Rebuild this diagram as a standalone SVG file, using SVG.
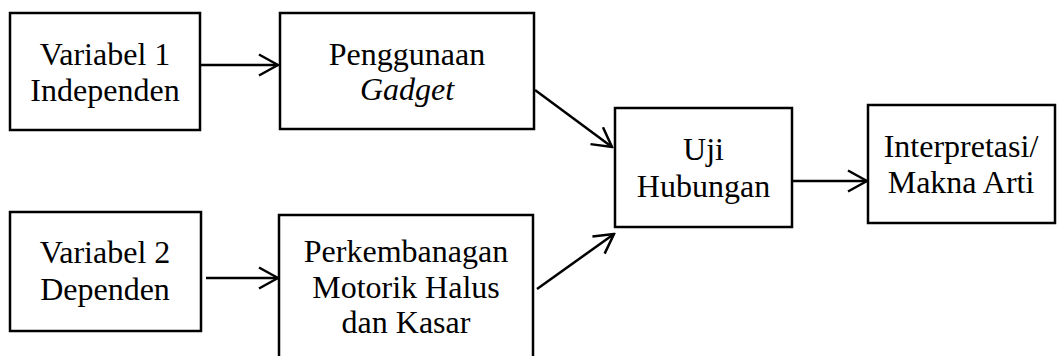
<svg xmlns="http://www.w3.org/2000/svg" width="1057" height="356" viewBox="0 0 1057 356">
<defs>
<style>
.box{fill:#fff;stroke:#000;stroke-width:2.5}
.t{font-family:"Liberation Serif","Times New Roman",serif;font-size:32px;fill:#000;text-anchor:middle}
.c{stroke:#000;stroke-width:2.5;fill:none}
</style>
<marker id="ah" markerWidth="24" markerHeight="24" viewBox="-22 -12 24 24" refX="0" refY="0" orient="auto" markerUnits="userSpaceOnUse">
<path d="M-19,-10.5 L0,0 L-19,10.5" fill="none" stroke="#000" stroke-width="2.5"/>
</marker>
</defs>
<rect width="1057" height="356" fill="#fff"/>
<g id="connectors">
<line class="c" x1="201" y1="65" x2="278" y2="65" marker-end="url(#ah)"/>
<line class="c" x1="206" y1="278" x2="278" y2="278" marker-end="url(#ah)"/>
<line class="c" x1="535" y1="90" x2="612" y2="147" marker-end="url(#ah)"/>
<line class="c" x1="537" y1="289" x2="614" y2="234" marker-end="url(#ah)"/>
<line class="c" x1="793" y1="181" x2="867" y2="181" marker-end="url(#ah)"/>
</g>
<g id="var1">
<rect class="box" x="10" y="13" width="190" height="117"/>
<text class="t" x="105" y="65">Variabel 1</text>
<text class="t" x="105" y="101">Independen</text>
</g>
<g id="penggunaan">
<rect class="box" x="280" y="13" width="254" height="116"/>
<text class="t" x="407" y="65">Penggunaan</text>
<text class="t" x="407" y="100" font-style="italic">Gadget</text>
</g>
<g id="var2">
<rect class="box" x="10" y="212" width="191" height="119"/>
<text class="t" x="105" y="263">Variabel 2</text>
<text class="t" x="105" y="300">Dependen</text>
</g>
<g id="perkembangan">
<rect class="box" x="279" y="215" width="254" height="150"/>
<text class="t" x="406" y="262">Perkembanagan</text>
<text class="t" x="406" y="298">Motorik Halus</text>
<text class="t" x="406" y="333">dan Kasar</text>
</g>
<g id="uji">
<rect class="box" x="615" y="108" width="177" height="119"/>
<text class="t" x="703.5" y="160">Uji</text>
<text class="t" x="703.5" y="197">Hubungan</text>
</g>
<g id="interpretasi">
<rect class="box" x="868" y="105" width="187" height="118"/>
<text class="t" x="961" y="157">Interpretasi/</text>
<text class="t" x="961" y="193">Makna Arti</text>
</g>
</svg>
